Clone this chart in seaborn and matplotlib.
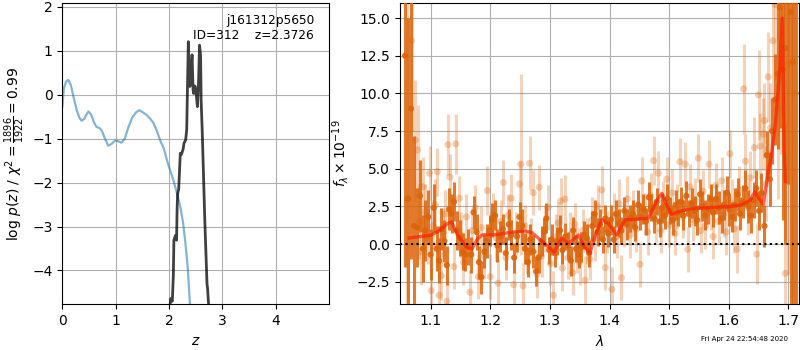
import matplotlib
matplotlib.use("Agg")
import matplotlib.pyplot as plt
import seaborn as sns
import numpy as np

# ---------------- left panel data ----------------
chi_z = [0.0, 0.03, 0.07, 0.11, 0.16, 0.21, 0.27, 0.32, 0.36, 0.41, 0.45, 0.49, 0.54, 0.59,
         0.64, 0.70, 0.74, 0.80, 0.86, 0.92, 0.99, 1.05, 1.11, 1.17, 1.24, 1.31, 1.38, 1.44,
         1.51, 1.58, 1.65, 1.71, 1.77, 1.83, 1.90, 1.96, 2.02, 2.08, 2.15, 2.21, 2.26, 2.30,
         2.35, 2.39]
chi_val = [-0.27, 0.15, 0.30, 0.34, 0.22, -0.05, -0.35, -0.52, -0.59, -0.55, -0.45, -0.38,
           -0.45, -0.62, -0.73, -0.76, -0.82, -1.00, -1.16, -1.12, -1.04, -1.06, -1.09, -1.00,
           -0.73, -0.52, -0.40, -0.35, -0.40, -0.46, -0.55, -0.65, -0.82, -1.03, -1.22, -1.49,
           -1.72, -1.94, -2.25, -2.55, -2.90, -3.31, -3.95, -4.77]

pz_z = [2.02, 2.03, 2.06, 2.08, 2.09, 2.12, 2.14, 2.15, 2.16, 2.18, 2.21, 2.23, 2.26, 2.28,
        2.31, 2.33, 2.36, 2.37, 2.39, 2.41, 2.43, 2.45, 2.46, 2.48, 2.49, 2.51, 2.53, 2.55,
        2.57, 2.59, 2.60, 2.62, 2.64, 2.67, 2.71, 2.72, 2.74]
pz_val = [-4.77, -4.64, -4.70, -4.10, -3.31, -3.20, -3.31, -2.60, -2.25, -2.15, -1.33, -1.36,
          -1.25, -1.10, -1.03, -0.80, 1.21, 0.60, 0.19, 0.55, 0.91, 0.10, 0.03, 0.20, 0.19,
          0.00, -0.27, 0.20, 1.13, 0.90, -0.12, -0.80, -1.64, -2.90, -4.30, -4.40, -4.77]

obj_name = "j161312p5650"
obj_id = 312
z_best = 2.3726
chi2_label = r"$\log\,p(z)$ / $\chi^2=\frac{1896}{1922}=0.99$"
time_stamp = "Fri Apr 24 22:54:48 2020"

# ---------------- right panel data ----------------
dark_wave = [
    1.057, 1.062, 1.067, 1.072, 1.077, 1.082, 1.087, 1.091, 1.096, 1.100,
    1.105, 1.110, 1.114, 1.118, 1.123, 1.127, 1.131, 1.135, 1.139, 1.144,
    1.149, 1.154, 1.158, 1.163, 1.168, 1.172, 1.177, 1.181, 1.185, 1.190,
    1.194, 1.199, 1.203, 1.208, 1.212, 1.217, 1.221, 1.226, 1.231, 1.235,
    1.240, 1.245, 1.249, 1.254, 1.258, 1.263, 1.267, 1.272, 1.277, 1.281,
    1.286, 1.290, 1.294, 1.299, 1.303, 1.308, 1.312, 1.317, 1.321, 1.326,
    1.330, 1.335, 1.339, 1.344, 1.348, 1.353, 1.357, 1.362, 1.366, 1.371,
    1.375, 1.380, 1.384, 1.389, 1.393, 1.398, 1.402, 1.407, 1.411, 1.416,
    1.420, 1.425, 1.429, 1.434, 1.439, 1.443, 1.448, 1.452, 1.457, 1.461,
    1.466, 1.470, 1.475, 1.479, 1.484, 1.488, 1.493, 1.497, 1.502, 1.506,
    1.511, 1.515, 1.520, 1.524, 1.529, 1.533, 1.538, 1.543, 1.547, 1.552,
    1.556, 1.561, 1.565, 1.570, 1.574, 1.579, 1.583, 1.588, 1.592, 1.597,
    1.601, 1.606, 1.610, 1.615, 1.619, 1.624, 1.628, 1.633, 1.637, 1.642,
    1.646, 1.651, 1.655, 1.660, 1.664, 1.669, 1.673, 1.678, 1.682, 1.686,
    1.691, 1.695, 1.700, 1.704, 1.708, 1.713]
dark_flux = [
    12.5, 3.0, 9.0, 1.2, 1.1, 3.2, -0.3, 0.9, 1.8, -0.7,
    2.4, -0.3, -1.1, 1.0, 0.2, -1.4, 2.3, 2.0, 2.8, 0.9,
    0.4, -0.5, -0.7, -0.2, -0.7, 2.1, 0.8, -1.2, -2.2, -0.5,
    0.2, 0.9, 1.6, 1.9, -0.1, 0.5, 1.0, -0.6, 1.3, 0.6,
    -0.9, 0.5, 1.8, 1.2, -0.3, -1.2, 0.3, -0.5, -1.8, -0.9,
    0.2, 0.8, 1.7, -0.4, 0.3, -0.6, 0.2, 0.9, -0.4, 0.5,
    -0.1, -1.1, 0.9, -0.3, -0.7, -0.2, 0.6, 0.4, -0.6, 1.2,
    2.0, 0.8, 1.3, 0.3, 1.7, 0.7, 1.6, 0.3, 2.0, 1.4,
    0.9, 2.2, 1.3, 1.7, 2.0, 1.1, 2.6, 1.8, 2.3, 1.5,
    3.1, 2.4, 1.7, 2.8, 1.5, 2.4, 1.9, 3.0, 2.2, 1.6,
    2.6, 2.1, 2.8, 1.9, 3.2, 2.0, 2.7, 2.2, 1.6, 3.3,
    2.5, 1.9, 2.3, 3.0, 2.1, 3.0, 2.4, 1.7, 2.6, 3.4,
    2.3, 1.8, 2.6, 3.3, 2.0, 2.8, 3.7, 2.5, 1.9, 2.9,
    3.7, 2.2, 3.4, 1.2, 5.9, 4.3, 7.5, 9.6, 11.3, 15.7,
    11.6, 13.0, 20.0, 15.4, 12.1, 18.0]
dark_err = [
    14, 12, 10, 6, 2.6, 2.4, 2.2, 2.0, 1.8, 1.7,
    1.6, 1.5, 1.5, 1.4, 1.4, 1.3, 1.4, 1.3, 1.3, 1.3,
    1.2, 1.2, 1.1, 1.2, 1.2, 1.1, 1.2, 1.1, 1.1, 1.1,
    1.1, 1.0, 1.1, 1.0, 1.1, 1.0, 1.0, 1.1, 1.0, 1.0,
    1.0, 1.0, 1.0, 1.1, 1.0, 1.0, 1.0, 1.1, 1.0, 1.0,
    1.0, 0.9, 1.0, 0.9, 1.0, 0.9, 0.9, 1.0, 0.9, 0.9,
    0.9, 1.0, 0.9, 0.9, 0.9, 1.0, 0.9, 0.9, 0.9, 1.0,
    0.9, 0.9, 1.0, 0.9, 0.9, 0.9, 1.0, 0.9, 0.9, 0.9,
    0.9, 0.9, 1.0, 0.9, 0.9, 0.9, 1.0, 0.9, 1.0, 0.9,
    1.0, 0.9, 1.0, 0.9, 1.0, 1.0, 0.9, 1.0, 0.9, 1.0,
    1.0, 0.9, 1.0, 1.0, 1.0, 0.9, 1.0, 1.0, 1.0, 1.0,
    1.0, 1.0, 1.0, 1.0, 1.0, 1.0, 1.1, 1.0, 1.0, 1.1,
    1.1, 1.0, 1.1, 1.1, 1.1, 1.1, 1.2, 1.1, 1.2, 1.2,
    1.2, 1.3, 1.3, 1.4, 1.6, 1.8, 2.2, 3.0, 5.0, 8.0,
    10, 13, 16, 20, 25, 30]

light_wave = [
    1.061, 1.068, 1.074, 1.078, 1.081, 1.084, 1.087, 1.091, 1.095, 1.098,
    1.101, 1.104, 1.108, 1.111, 1.114, 1.118, 1.121, 1.124, 1.127, 1.129,
    1.132, 1.139, 1.142, 1.148, 1.151, 1.155, 1.160, 1.166, 1.170, 1.175,
    1.180, 1.185, 1.190, 1.195, 1.200, 1.205, 1.210, 1.213, 1.218, 1.222,
    1.226, 1.230, 1.235, 1.239, 1.243, 1.249, 1.251, 1.255, 1.258, 1.262,
    1.266, 1.269, 1.272, 1.278, 1.282, 1.286, 1.291, 1.297, 1.301, 1.306,
    1.310, 1.314, 1.318, 1.321, 1.325, 1.330, 1.334, 1.338, 1.342, 1.346,
    1.350, 1.355, 1.359, 1.363, 1.367, 1.371, 1.375, 1.380, 1.387, 1.393,
    1.396, 1.404, 1.408, 1.412, 1.416, 1.420, 1.425, 1.430, 1.435, 1.440,
    1.445, 1.451, 1.454, 1.459, 1.464, 1.469, 1.474, 1.478, 1.482, 1.486,
    1.490, 1.496, 1.500, 1.505, 1.510, 1.514, 1.518, 1.523, 1.527, 1.531,
    1.535, 1.540, 1.544, 1.549, 1.553, 1.557, 1.561, 1.567, 1.570, 1.574,
    1.579, 1.583, 1.588, 1.592, 1.596, 1.602, 1.605, 1.609, 1.614, 1.618,
    1.625, 1.628, 1.632, 1.636, 1.643, 1.647, 1.650, 1.653, 1.658, 1.660,
    1.663, 1.666, 1.670, 1.674, 1.678, 1.683, 1.688, 1.695, 1.700, 1.706,
    1.712]
light_flux = [
    3.0, 13.5, 6.9, 6.25, 1.5, -0.5, 3.8, 2.1, 0.5, 4.7,
    -3.1, 1.2, 2.6, 4.8, -3.4, -2.1, 0.8, 2.0, -3.8, 6.6,
    4.45, -1.5, 6.65, 3.04, 0.6, -1.2, 1.8, -3.2, 0.9, 2.4,
    -2.17, 1.1, -0.8, 3.55, -2.17, 2.0, 0.4, -2.6, 1.5, 4.08,
    -0.9, 1.9, 3.04, -2.7, 0.7, 3.99, 5.3, -2.77, 1.2, -0.5,
    5.36, 0.3, 3.41, -2.0, 3.77, -0.8, 1.0, 2.44, -1.3, -3.4,
    0.5, 1.4, 2.86, -1.6, 2.99, -0.9, 0.6, -1.9, 1.3, -0.4,
    -1.2, 0.9, -2.4, 0.2, -1.0, 1.6, 0.4, 2.5, 3.59, -1.57,
    0.8, -3.0, 1.9, 0.5, 2.7, -2.24, 1.2, 3.0, 0.6, 2.2,
    1.0, -1.35, 4.19, 2.0, 0.8, 3.2, 5.54, 1.5, 4.7, 0.9,
    2.8, 4.3, 1.3, 3.4, 0.7, 2.5, 5.47, 1.8, 5.3, -0.35,
    3.8, 1.6, 2.9, 5.7, 0.9, 3.5, 1.2, 5.3, 2.4, 0.5,
    3.9, 1.5, 4.2, 2.0, 0.8, 6.0, 2.7, 1.0, -0.35, 3.6,
    10.3, 5.5, 2.4, 4.4, 6.4, -0.67, 9.9, 6.5, 7.3, 8.2,
    4.0, 11.1, 7.7, 13.5, 15.9, 9.0, 14.0, -1.95, 12.0, 16.5,
    10.0]
light_err = [
    14, 6, 4, 3, 2.5, 2.2, 2.0, 1.9, 1.8, 1.8,
    1.8, 1.7, 1.7, 1.6, 1.6, 1.6, 1.6, 1.6, 1.6, 2.0,
    1.5, 1.5, 2.0, 1.5, 1.5, 1.5, 1.5, 1.5, 1.5, 1.5,
    1.5, 1.4, 1.5, 1.6, 1.5, 1.4, 1.5, 1.6, 1.4, 1.5,
    1.5, 1.4, 1.6, 1.5, 1.4, 1.5, 6.0, 1.5, 1.4, 1.5,
    1.8, 1.4, 1.5, 1.6, 1.5, 1.4, 1.5, 1.5, 1.4, 1.6,
    1.5, 1.4, 1.5, 1.5, 1.6, 1.4, 1.5, 1.5, 1.4, 1.5,
    1.5, 1.4, 1.6, 1.5, 1.4, 1.5, 1.5, 1.4, 1.6, 1.5,
    1.4, 1.5, 1.5, 1.4, 1.6, 1.5, 1.4, 1.5, 1.5, 1.4,
    1.5, 1.5, 1.6, 1.4, 1.5, 1.5, 1.6, 1.4, 1.5, 1.5,
    1.4, 1.5, 1.5, 1.6, 1.4, 1.5, 1.6, 1.4, 1.5, 1.5,
    1.5, 1.4, 1.5, 1.6, 1.5, 1.4, 1.5, 1.6, 1.5, 1.5,
    1.5, 1.5, 1.6, 1.5, 1.5, 1.6, 1.6, 1.6, 1.6, 1.6,
    3.0, 1.8, 1.8, 1.8, 2.0, 2.0, 3.0, 2.2, 2.4, 2.5,
    2.5, 3.0, 3.0, 4.0, 5.0, 6.0, 8.0, 10.0, 14.0, 20.0,
    30.0]

model_wave = [1.064, 1.080, 1.100, 1.115, 1.128, 1.135, 1.145, 1.160, 1.169, 1.178,
              1.186, 1.208, 1.236, 1.258, 1.270, 1.281, 1.295, 1.307, 1.320, 1.331,
              1.348, 1.356, 1.367, 1.378, 1.387, 1.398, 1.412, 1.426, 1.445, 1.465,
              1.480, 1.488, 1.496, 1.504, 1.520, 1.543, 1.570, 1.599, 1.621, 1.636,
              1.644, 1.651, 1.658, 1.666, 1.672, 1.678, 1.686, 1.690, 1.693, 1.695]
model_flux = [0.40, 0.48, 0.58, 0.90, 1.35, 1.48, 0.60, -0.20, -0.33, 0.30,
              0.60, 0.62, 0.78, 0.87, 0.75, 0.38, -0.10, -0.51, 0.38, 0.05,
              0.60, -0.07, -0.62, 0.80, 1.60, 1.37, 0.60, 1.60, 1.65, 1.71,
              2.90, 3.37, 2.60, 1.97, 2.20, 2.37, 2.42, 2.48, 2.59, 2.90,
              3.48, 3.00, 2.64, 4.70, 6.00, 7.80, 11.8, 15.0, 6.25, 4.14]

assert len(dark_wave) == len(dark_flux) == len(dark_err)
assert len(light_wave) == len(light_flux) == len(light_err)

orange = "#dc640a"

fig = plt.figure(figsize=(8, 3.5), dpi=100)
ax1 = fig.add_axes([0.0779, 0.1306, 0.3330, 0.8608])
ax2 = fig.add_axes([0.4994, 0.1306, 0.4994, 0.8608])

# ---- left panel ----
sns.lineplot(x=chi_z, y=chi_val, ax=ax1, color="C0", alpha=0.55, lw=1.6,
             sort=False, estimator=None)
sns.lineplot(x=pz_z, y=pz_val, ax=ax1, color="k", alpha=0.75, lw=2.0,
             sort=False, estimator=None)
ax1.set_xlim(0, 4.99)
ax1.set_ylim(-4.77, 2.09)
ax1.set_xticks([0, 1, 2, 3, 4])
ax1.set_yticks([-4, -3, -2, -1, 0, 1, 2])
ax1.grid(True)
ax1.set_xlabel(r"$z$")
ax1.set_ylabel(chi2_label)
ax1.text(0.945, 0.965, f"{obj_name}\nID={obj_id}    z={z_best:.4f}",
         ha="right", va="top", transform=ax1.transAxes, fontsize=8.7)

# ---- right panel ----
ax2.errorbar(light_wave, light_flux, yerr=light_err, fmt="none", ecolor=orange,
             alpha=0.28, elinewidth=2.2, zorder=2)
sns.scatterplot(x=light_wave, y=light_flux, ax=ax2, color=orange, alpha=0.3,
                s=26, edgecolor="none", zorder=2)
ax2.errorbar(dark_wave, dark_flux, yerr=dark_err, fmt="none", ecolor=orange,
             alpha=0.85, elinewidth=2.2, zorder=3)
sns.scatterplot(x=dark_wave, y=dark_flux, ax=ax2, color=orange, alpha=0.9,
                s=20, edgecolor="none", zorder=3)
sns.lineplot(x=model_wave, y=model_flux, ax=ax2, color="#ff1a00", alpha=0.65,
             lw=2.4, sort=False, estimator=None, zorder=4)
ax2.axhline(0, color="k", ls=":", lw=1.5, zorder=5)
ax2.set_xlim(1.0477, 1.718)
ax2.set_ylim(-4.0, 16.0)
ax2.set_xticks([1.1, 1.2, 1.3, 1.4, 1.5, 1.6, 1.7])
ax2.set_yticks([-2.5, 0, 2.5, 5, 7.5, 10, 12.5, 15])
ax2.grid(True)
ax2.set_xlabel(r"$\lambda$")
ax2.set_ylabel(r"$f_\lambda\times10^{-19}$")

fig.text(0.985, 0.022, time_stamp, ha="right", va="bottom", fontsize=5)

fig.savefig("out.png", dpi=100)
